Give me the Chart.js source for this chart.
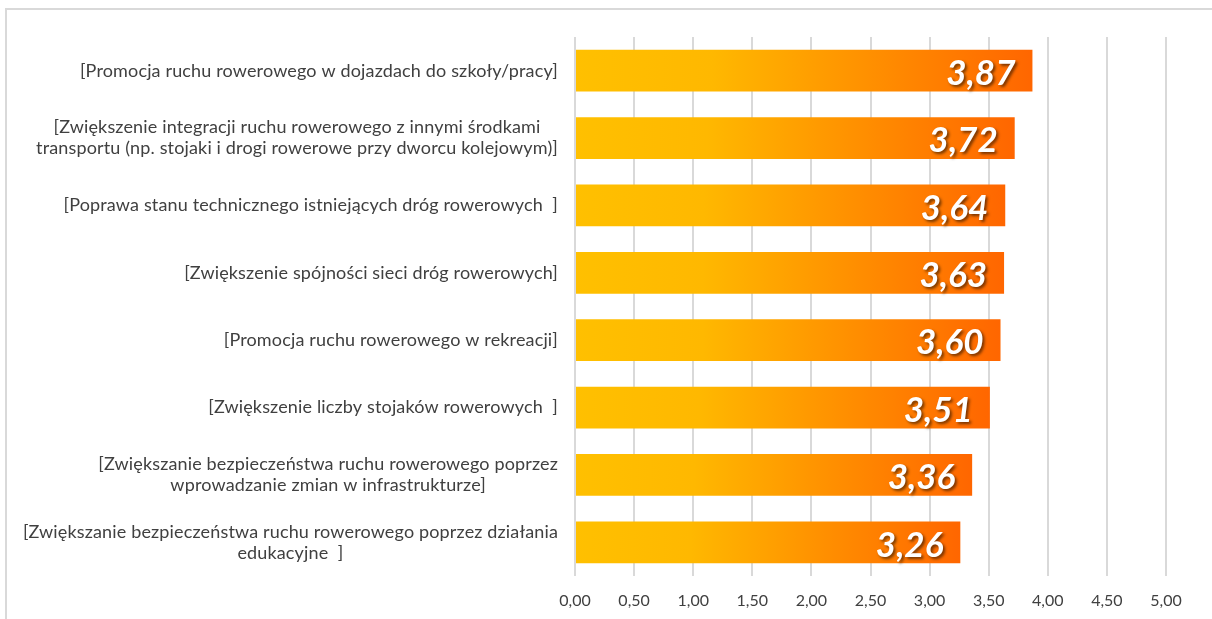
<!DOCTYPE html>
<html>
<head>
<meta charset="utf-8">
<script src="https://cdn.jsdelivr.net/npm/chart.js@4/dist/chart.umd.min.js"></script>
<style>
  html, body { margin: 0; padding: 0; background: #fff; }
  #wrap { position: relative; width: 1212px; height: 619px; }
  #frame { position: absolute; left: 5px; top: 8px; right: 0; bottom: 0;
           border-top: 2px solid #d9d9d9; border-left: 2px solid #d9d9d9; }
  canvas { position: absolute; left: 0; top: 0; }
</style>
</head>
<body>
<div id="wrap">
  <div id="frame"></div>
  <canvas id="chart" width="1212" height="619"></canvas>
</div>
<script>
const categories = [
  ["[Promocja ruchu rowerowego w dojazdach do szkoły/pracy]"],
  ["[Zwiększenie integracji ruchu rowerowego z innymi środkami", "transportu (np. stojaki i drogi rowerowe przy dworcu kolejowym)]"],
  ["[Poprawa stanu technicznego istniejących dróg rowerowych  ]"],
  ["[Zwiększenie spójności sieci dróg rowerowych]"],
  ["[Promocja ruchu rowerowego w rekreacji]"],
  ["[Zwiększenie liczby stojaków rowerowych  ]"],
  ["[Zwiększanie bezpieczeństwa ruchu rowerowego poprzez", "wprowadzanie zmian w infrastrukturze]"],
  ["[Zwiększanie bezpieczeństwa ruchu rowerowego poprzez działania", "edukacyjne  ]"]
];
const scores = [3.87, 3.72, 3.64, 3.63, 3.60, 3.51, 3.36, 3.26];
const axisMin = 0;
const axisMax = 5;
const axisStep = 0.5;

const fmt = (v, d) => v.toFixed(d).replace(".", ",");

function barGradient(context) {
  const chart = context.chart;
  const area = chart.chartArea;
  if (!area) return "#FFC000";
  const x = chart.scales.x;
  const x0 = x.getPixelForValue(0);
  const x1 = x.getPixelForValue(scores[context.dataIndex]);
  const g = chart.ctx.createLinearGradient(x0, 0, x1, 0);
  g.addColorStop(0, "#FFC000");
  g.addColorStop(0.3, "#FFB800");
  g.addColorStop(1, "#FF6600");
  return g;
}

const categoryLabels = {
  id: "categoryLabels",
  afterDraw(chart) {
    const ctx = chart.ctx;
    const y = chart.scales.y;
    const right = chart.chartArea.left - 17;
    const lineH = 21;
    ctx.save();
    ctx.font = "18px Lato";
    ctx.letterSpacing = "0.15px";
    ctx.fillStyle = "#404040";
    ctx.textAlign = "center";
    ctx.textBaseline = "middle";
    categories.forEach((lines, i) => {
      const w = Math.max(...lines.map((l) => ctx.measureText(l).width));
      const cx = right - w / 2;
      const cy = y.getPixelForValue(i);
      const top = cy - (lines.length - 1) * lineH / 2;
      lines.forEach((l, j) => ctx.fillText(l, cx, top + j * lineH));
    });
    ctx.restore();
  }
};

const valueLabels = {
  id: "valueLabels",
  afterDatasetsDraw(chart) {
    const ctx = chart.ctx;
    const meta = chart.getDatasetMeta(0);
    ctx.save();
    ctx.font = "italic bold 35px Lato";
    ctx.textAlign = "right";
    ctx.textBaseline = "middle";
    ctx.fillStyle = "#ffffff";
    ctx.shadowColor = "rgba(0,0,0,0.55)";
    ctx.shadowOffsetX = 2;
    ctx.shadowOffsetY = 2;
    ctx.shadowBlur = 3;
    meta.data.forEach((bar, i) => {
      ctx.fillText(fmt(scores[i], 2), bar.x - 17, bar.y + 3);
    });
    ctx.restore();
  }
};

new Chart(document.getElementById("chart"), {
  type: "bar",
  data: {
    labels: categories,
    datasets: [{
      data: scores,
      backgroundColor: barGradient,
      borderWidth: 0,
      categoryPercentage: 1,
      barPercentage: 0.62,
    }],
  },
  options: {
    indexAxis: "y",
    responsive: false,
    animation: false,
    layout: { padding: { left: 575, right: 46, top: 37, bottom: 0 } },
    plugins: { legend: { display: false }, tooltip: { enabled: false } },
    scales: {
      y: { display: false },
      x: {
        min: axisMin,
        max: axisMax,
        border: { display: false },
        grid: { color: "#d9d9d9", lineWidth: 2, drawTicks: false },
        ticks: {
          stepSize: axisStep,
          padding: 15,
          color: "#404040",
          font: { family: "Lato", size: 16 },
          callback: (v) => fmt(v, 2),
        },
        afterFit(scale) { scale.height = 43; },
      },
    },
  },
  plugins: [categoryLabels, valueLabels],
});
</script>
</body>
</html>
